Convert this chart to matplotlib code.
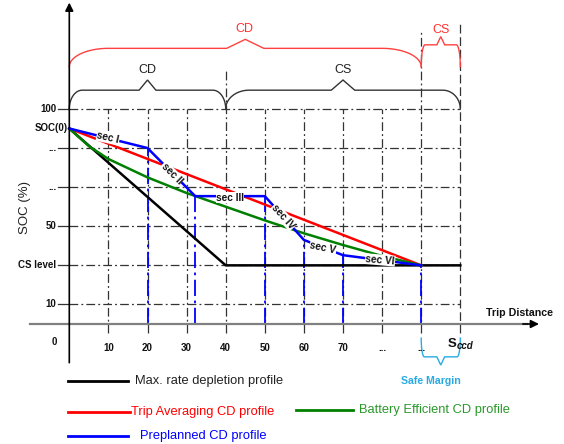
import numpy as np
import matplotlib
matplotlib.use('Agg')
import matplotlib.pyplot as plt

plt.rcParams['font.family'] = ['Liberation Sans', 'DejaVu Sans']

# ---------------- data (schematic units: x = trip distance, y = SOC grid rows) ----------------
grid_x = [10, 20, 30, 40, 50, 60, 70, 80, 90, 100]
x_tick_labels = ['10', '20', '30', '40', '50', '60', '70', '...', '...']
y_tick_pos = [0.5, 1.5, 2.5, 3.5, 4.5, 5.5]
y_tick_labels = ['10', 'CS level', '50', '...', '...', '100']
soc0 = 5.0

max_rate_x = [0, 40, 100]
max_rate_y = [5.0, 1.5, 1.5]
trip_avg_x = [0, 90]
trip_avg_y = [5.0, 1.5]
batt_eff_x = [0, 5, 10, 20, 30, 40, 50, 60, 70, 80, 90]
batt_eff_y = [5.0, 4.55, 4.22, 3.75, 3.35, 3.0, 2.65, 2.32, 2.02, 1.74, 1.5]
preplan_x = [0, 20, 32.2, 50, 60, 70, 90]
preplan_y = [5.0, 4.5, 3.27, 3.27, 2.15, 1.76, 1.5]
section_labels = ['sec I', 'sec II', 'sec III', 'sec IV', 'sec V', 'sec VI']

legend_labels = ['Max. rate depletion profile', 'Trip Averaging CD profile',
                 'Battery Efficient CD profile', 'Preplanned CD profile']
legend_colors = ['black', 'red', '#008000', 'blue']
legend_text_colors = ['#222222', 'red', '#2a992a', 'blue']

# ---------------- figure ----------------
fig = plt.figure(figsize=(5.64, 4.44), dpi=100)
ax = fig.add_axes([0, 0, 1, 1])
X0, SX, Y0, SY = 69.3, 3.91, 324.0, 39.1
ax.set_xlim(-X0 / SX, (564 - X0) / SX)
ax.set_ylim((Y0 - 444) / SY, Y0 / SY)
ax.axis('off')


def px(xp, yp):
    return (xp - X0) / SX, (Y0 - yp) / SY


grid_kw = dict(color='#333333', lw=0.9, dashes=(7, 2.5, 1.5, 2.5), zorder=1)
# horizontal grid
for yv, lab in zip(y_tick_pos, y_tick_labels):
    ax.plot([0, 100], [yv, yv], **grid_kw)
    ax.plot([-2.9, 0], [yv, yv], color='#333333', lw=0.9, zorder=1)
    ax.text(-3.3, yv, lab, ha='right', va='center',
            fontsize=7, fontweight='bold', color='#111111')
ax.text(-0.5, soc0, 'SOC(0)', ha='right', va='center', fontsize=7,
        fontweight='bold', color='#111111')

# vertical grid
tops = {40: 6.5, 90: 7.48, 100: 7.73}
for xv in grid_x:
    top = tops.get(xv, 5.5)
    if xv == 100:
        ax.plot([xv, xv], [-0.23, top], color='#333333', lw=0.9, dashes=(7, 3), zorder=1)
    else:
        ax.plot([xv, xv], [-0.23, top], **grid_kw)
for xv, lab in zip(grid_x[:-1], x_tick_labels):
    ax.text(xv, -0.61, lab, ha='center', va='center', fontsize=7,
            fontweight='bold', color='#111111')
ax.text(*px(54.3, 342.3), '0', ha='center', va='center', fontsize=7,
        fontweight='bold', color='#111111')
ax.text(*px(452, 344), 'S', ha='center', va='center', fontsize=9.5,
        fontweight='bold', color='#111111')
ax.text(*px(457, 346), 'ccd', ha='left', va='center', fontsize=7,
        fontweight='bold', style='italic', color='#111111')

# axes with arrows
ax.annotate('', xy=(0, 8.22), xytext=(0, -0.99),
            arrowprops=dict(arrowstyle='-|>', color='black', lw=1.2,
                            mutation_scale=12, shrinkA=0, shrinkB=0), zorder=5)
ax.plot([px(30, 0)[0], 117], [0, 0], color='#808080', lw=1.6, zorder=4)
ax.annotate('', xy=(px(539, 0)[0], 0), xytext=(116, 0),
            arrowprops=dict(arrowstyle='-|>', color='black', lw=1.2,
                            mutation_scale=12, shrinkA=0, shrinkB=0), zorder=5)
ax.text(*px(519, 313), 'Trip Distance', ha='center', va='center', fontsize=7.7,
        fontweight='bold', color='#111111')
ax.text(*px(25, 207), 'SOC (%)', ha='center', va='center', rotation=90,
        fontsize=9.5, color='#222222')

# blue drop lines
for xv, yv in zip(preplan_x[1:], preplan_y[1:]):
    ax.plot([xv, xv], [0, yv], color='blue', lw=1.3, dashes=(9, 2.5, 1.5, 2.5), zorder=2)

# curves
ax.plot(max_rate_x, max_rate_y, color='black', lw=1.8, zorder=3)
ax.plot(trip_avg_x, trip_avg_y, color='red', lw=1.8, zorder=3)
ax.plot(batt_eff_x, batt_eff_y, color='#008000', lw=1.8, zorder=3)
ax.plot(preplan_x, preplan_y, color='blue', lw=1.8, zorder=3)

# section labels
sec_pos = [(9.9, 4.76, -13), (26.2, 3.85, -45), (41.1, 3.23, 0),
           (54.7, 2.74, -48), (64.9, 1.95, -12), (79.5, 1.64, -5)]
for lab, (sx, sy, rot) in zip(section_labels, sec_pos):
    ax.text(sx, sy, lab, ha='center', va='center', rotation=rot,
            rotation_mode='anchor', fontsize=7.3, fontweight='bold', color='#111111',
            bbox=dict(fc='white', ec='none', pad=0.3), zorder=6)


# braces
def brace(x0, x1, xm, yb, yf, yp, rx0, rx1, pw, color, lw=1.0):
    s = np.linspace(0, np.pi / 2, 40)
    lx = x0 + rx0 * (1 - np.cos(s))
    ly = yb + (yf - yb) * np.sin(s)
    rxs = x1 - rx1 + rx1 * np.sin(s)
    rys = yb + (yf - yb) * np.cos(s)
    xs = np.concatenate([lx, [xm - pw / 2, xm, xm + pw / 2], rxs])
    ys = np.concatenate([ly, [yf, yp, yf], rys])
    ax.plot(xs, ys, color=color, lw=lw, zorder=2, solid_joinstyle='miter')


brace(0, 40, 20, 5.5, 5.98, 6.24, 3.3, 3.3, 4.3, '#333333')
brace(40, 100, 70, 5.5, 5.98, 6.24, 6.0, 4.5, 6.0, '#333333')
brace(0, 90, 45, 6.58, 7.05, 7.28, 10.0, 10.0, 9.5, '#ff4040')
brace(90, 100, 95, 6.58, 7.14, 7.35, 1.0, 1.0, 2.0, '#ff4040')
brace(90, 100, 95, -0.36, -0.84, -1.05, 0.8, 0.8, 2.0, '#29abe2')

ax.text(20, 6.5, 'CD', ha='center', va='center', fontsize=9, color='#222222')
ax.text(70, 6.5, 'CS', ha='center', va='center', fontsize=9, color='#222222')
ax.text(44.7, 7.54, 'CD', ha='center', va='center', fontsize=9, color='#ff3030')
ax.text(95, 7.52, 'CS', ha='center', va='center', fontsize=9, color='#ff3030')
ax.text(*px(431, 380.7), 'Safe Margin', ha='center', va='center', fontsize=7.6,
        fontweight='bold', color='#29abe2')

# legend (manual layout)
leg_layout = [((68, 128), 381, 135), ((68, 130), 411.7, 131),
              ((296, 353), 410, 359), ((68, 128), 436, 140)]
for (xr, yp_, tx), lab, c, tc in zip(leg_layout, legend_labels, legend_colors, legend_text_colors):
    a = px(xr[0], yp_)
    b = px(xr[1], yp_)
    ax.plot([a[0], b[0]], [a[1], b[1]], color=c, lw=2.0, zorder=3, clip_on=False)
    ax.text(*px(tx, yp_), lab, ha='left', va='center', fontsize=9.3, color=tc)

fig.savefig('out.png', dpi=100)
